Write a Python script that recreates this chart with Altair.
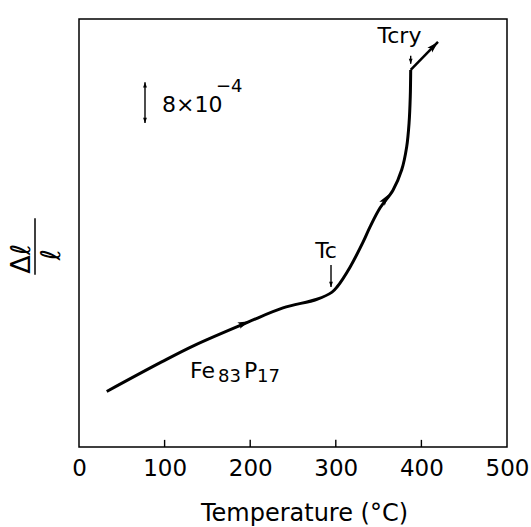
import altair as alt
import pandas as pd

FONT = "DejaVu Sans"

# Main dilatation curve: temperature (°C) vs Δl/l (units of 1e-4, arbitrary zero)
temperature = [32.4, 96.6, 135.5, 197.4, 238.3, 278.0, 295.6, 301.4, 316.6, 331.8,
               340.0, 351.6, 366.8, 377.0, 382.8, 385.6, 387.0, 387.5]
dl_over_l = [10.9, 16.7, 20.0, 24.5, 27.3, 29.0, 30.4, 31.4, 35.3, 40.2,
             43.2, 46.9, 50.4, 54.4, 58.9, 63.6, 68.8, 74.0]

# Branch after crystallisation
cry_temperature = [387.5, 419.4]
cry_dl = [74.0, 79.5]

# Axis
x_tick_values = [0, 100, 200, 300, 400, 500]
inner_ticks = [100, 200, 300, 400]
tick_length = [1.4, 1.4, 1.4, 1.4]

# Arrow heads along the curve (T, value, direction in degrees clockwise from up)
head_t = [199.0, 362.0, 419.4]
head_v = [24.7, 49.6, 79.5]
head_angle = [67, 36, 45]

# Marker arrows (Tc, Tcry) and the 8e-4 scale bar
marker_t = [294.4, 387.5]
marker_top = [35.7, 76.8]
marker_tip = [31.4, 75.2]
scale_t = 77.1
scale_low = 63.6
scale_high = 71.6

ARROW = "M0,0L0.55,1.9L0,1.5L-0.55,1.9Z"
SMALL_ARROW = "M0,0L0.7,1.9L-0.7,1.9Z"

curve_df = pd.DataFrame({"T": temperature, "v": dl_over_l, "i": range(len(temperature))})
cry_df = pd.DataFrame({"T": cry_temperature, "v": cry_dl, "i": range(len(cry_temperature))})
heads_df = pd.DataFrame({"T": head_t, "v": head_v, "a": head_angle})
rules_df = pd.DataFrame({"T": marker_t + [scale_t] + inner_ticks,
                         "v": marker_top + [scale_low] + [0.0] * 4,
                         "v2": marker_tip + [scale_high] + tick_length})
marker_heads_df = pd.DataFrame({"T": marker_t + [scale_t, scale_t],
                                "v": marker_tip + [scale_high, scale_low],
                                "a": [180, 180, 0, 180]})

xs = alt.Scale(domain=[0, 500], nice=False, zero=False)
ys = alt.Scale(domain=[0, 84], nice=False, zero=False)

x_axis = alt.Axis(values=x_tick_values, grid=False, ticks=False, domain=False,
                  labelFont=FONT, labelFontSize=23, labelColor="black",
                  labelPadding=10, labelFlush=False, labelOverlap=False,
                  title="Temperature (°C)", titleFont=FONT, titleFontSize=24,
                  titleFontWeight="normal", titleColor="black",
                  titleBaseline="alphabetic", titleY=73, titleX=225)

X = alt.X("T:Q", scale=xs, axis=x_axis)
Y = alt.Y("v:Q", scale=ys, axis=None)
Xn = alt.X("T:Q", scale=xs)
Yn = alt.Y("v:Q", scale=ys)

curve = alt.Chart(curve_df).mark_line(color="black", strokeWidth=3, interpolate="catmull-rom").encode(
    x=X, y=Y, order="i:Q")
cry = alt.Chart(cry_df).mark_line(color="black", strokeWidth=2.5).encode(x=Xn, y=Yn, order="i:Q")

heads = alt.Chart(heads_df).mark_point(shape=ARROW, filled=True, color="black", size=150,
                                       opacity=1).encode(
    x=Xn, y=Yn, angle=alt.Angle("a:Q", scale=None))

# marker lines, scale bar and inward ticks on the bottom frame
rules = alt.Chart(rules_df).mark_rule(color="black", strokeWidth=1.4).encode(
    x=Xn, y=Yn, y2="v2:Q")
marker_heads = alt.Chart(marker_heads_df).mark_point(shape=SMALL_ARROW, filled=True, color="black",
                                                     size=30, opacity=1).encode(
    x=Xn, y=Yn, angle=alt.Angle("a:Q", scale=None))

# Text annotations
tc_df = pd.DataFrame({"T": [288.6, 374.4], "v": [37.1, 79.3], "t": ["Tc", "Tcry"]})
tc_text = alt.Chart(tc_df).mark_text(font=FONT, fontSize=22, align="center", baseline="alphabetic", color="black").encode(
    x=Xn, y=Yn, text="t:N")

sb_df = pd.DataFrame({"T": [97.0], "v": [65.75], "t": ["8×10"]})
sb_text = alt.Chart(sb_df).mark_text(font=FONT, fontSize=22, align="left", baseline="alphabetic", color="black").encode(
    x=Xn, y=Yn, text="t:N")
sup_df = pd.DataFrame({"T": [160.0], "v": [69.6], "t": ["−4"]})
sup_text = alt.Chart(sup_df).mark_text(font=FONT, fontSize=18, align="left", baseline="alphabetic", color="black").encode(
    x=Xn, y=Yn, text="t:N")

fe_df = pd.DataFrame({"T": [129.7, 192.8], "v": [13.5, 13.5], "t": ["Fe", "P"]})
fe_text = alt.Chart(fe_df).mark_text(font=FONT, fontSize=22, align="left", baseline="alphabetic", color="black").encode(
    x=Xn, y=Yn, text="t:N")
sub_df = pd.DataFrame({"T": [162.4, 208.0], "v": [12.7, 12.7], "t": ["83", "17"]})
sub_text = alt.Chart(sub_df).mark_text(font=FONT, fontSize=18, align="left", baseline="alphabetic", color="black").encode(
    x=Xn, y=Yn, text="t:N")

# Y-axis label as a fraction Δℓ / ℓ, rotated
yl_df = pd.DataFrame({"T": [-66.6, -32.0], "v": [36.9, 37.7], "t": ["Δℓ", "ℓ"]})
yl_text = alt.Chart(yl_df).mark_text(font=FONT, fontSize=27, angle=270, align="center", baseline="middle", color="black").encode(
    x=Xn, y=Yn, text="t:N")
frac_df = pd.DataFrame({"T": [-51.4], "v": [33.8], "v2": [44.9]})
frac = alt.Chart(frac_df).mark_rule(color="black", strokeWidth=1.5).encode(x=Xn, y=Yn, y2="v2:Q")

chart = alt.layer(
    curve, cry, heads, rules, marker_heads,
    tc_text, sb_text, sup_text, fe_text, sub_text, yl_text, frac
).properties(
    width=428, height=428,
    autosize=alt.AutoSizeParams(type="none"),
    padding={"left": 79, "top": 19, "right": 24, "bottom": 80},
    background="white",
).configure_view(stroke="black", strokeWidth=1.5)

chart.save("out.html", embed_options={"renderer": "svg", "actions": False})
